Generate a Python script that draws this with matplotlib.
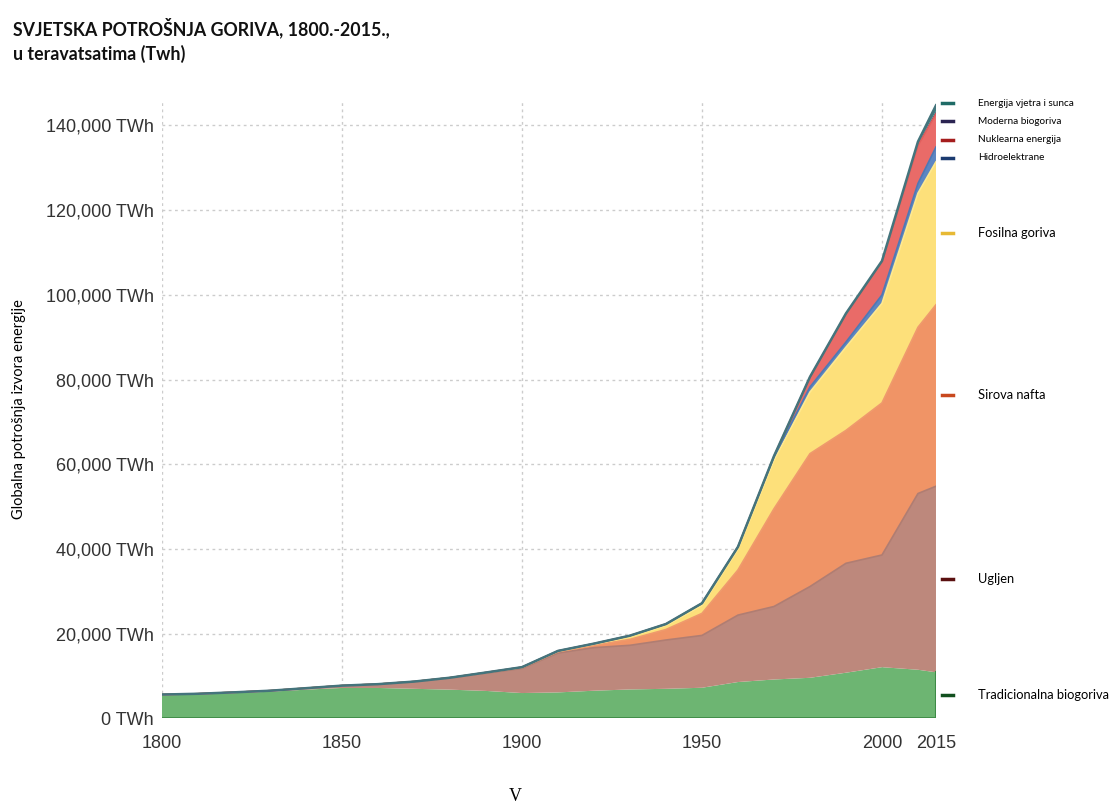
import matplotlib
matplotlib.use("Agg")
from matplotlib import pyplot as plt
from matplotlib.ticker import FuncFormatter
import numpy as np

# Years and energy use per source (TWh)
years = [1800, 1810, 1820, 1830, 1840, 1850, 1860, 1870, 1880, 1890, 1900,
         1910, 1920, 1930, 1940, 1950, 1960, 1970, 1980, 1990, 2000, 2010, 2015]
trad_bio = [5550, 5700, 6000, 6300, 6800, 7200, 7200, 7000, 6800, 6500, 6000,
            6150, 6550, 6850, 7000, 7250, 8600, 9200, 9600, 10800, 12100, 11500, 10900]
coal = [100, 130, 170, 250, 350, 550, 900, 1700, 2800, 4200, 5800,
        9300, 10170, 10420, 11520, 12350, 15800, 17230, 21540, 25830, 26490, 41600, 43920]
oil = [0, 0, 0, 0, 0, 0, 0, 5, 20, 100, 200,
       300, 550, 1400, 2480, 5200, 10660, 23070, 31370, 31370, 35900, 39240, 42840]
gas = [0, 0, 0, 0, 0, 0, 0, 0, 0, 50, 60,
       100, 250, 630, 950, 1900, 4860, 11440, 14540, 19660, 23500, 31660, 33740]
hydro = [0, 0, 0, 0, 0, 0, 0, 0, 0, 0, 50,
         100, 150, 250, 350, 500, 600, 800, 1200, 1200, 2000, 2300, 3500]
nuclear = [0, 0, 0, 0, 0, 0, 0, 0, 0, 0, 0,
           0, 0, 0, 0, 0, 0, 200, 2340, 6640, 7810, 8970, 7830]
modern_bio = [0, 0, 0, 0, 0, 0, 0, 0, 0, 0, 0,
              0, 0, 0, 0, 0, 0, 0, 50, 100, 150, 400, 600]
wind_solar = [0, 0, 0, 0, 0, 0, 0, 0, 0, 0, 0,
              0, 0, 0, 0, 0, 0, 0, 0, 20, 60, 500, 1400]

series = [trad_bio, coal, oil, gas, hydro, nuclear, modern_bio, wind_solar]
labels = ["Tradicionalna biogoriva", "Ugljen", "Sirova nafta", "Fosilna goriva",
          "Hidroelektrane", "Nuklearna energija", "Moderna biogoriva",
          "Energija vjetra i sunca"]
fills = ["#6db572", "#bd887c", "#f09466", "#fde07a",
         "#5d86c2", "#e96b68", "#3b3561", "#3f7f80"]
edges = ["#5a9f5e", "#b07d72", "#ef9a6c", "#ffe98f",
         "#4f78b4", "#e0605d", "#3b3561", "#3f6f78"]
markers = ["#12501f", "#5a1010", "#c8481e", "#e7b934",
           "#1b3b70", "#a51d1d", "#2b2452", "#1f6b66"]
xticks = [1800, 1850, 1900, 1950, 2000, 2015]
yticks = [0, 20000, 40000, 60000, 80000, 100000, 120000, 140000]

fig = plt.figure(figsize=(11.14, 8.05), dpi=100)
ax = fig.add_axes([0.1454, 0.1075, 0.6948, 0.7683])

ax.stackplot(years, *series, colors=fills, linewidth=0)
cum = np.cumsum(np.array(series, dtype=float), axis=0)
for i in range(1, 6):
    ax.plot(years, cum[i], color=edges[i], lw=1.2, zorder=3)
ax.plot(years, cum[-1], color="#44747c", lw=1.8, zorder=4)
ax.plot(years, np.zeros(len(years)), color="#3e8a46", lw=2, zorder=4)
ax.plot([years[-1], years[-1]], [0, trad_bio[-1]], color="#3e8a46", lw=1.5, zorder=4)

ax.set_xlim(1800, 2015)
ax.set_ylim(0, 146000)
ax.set_xticks(xticks)
ax.set_yticks(yticks)
ax.yaxis.set_major_formatter(FuncFormatter(lambda v, p: f"{int(v):,} TWh"))
ax.tick_params(axis="y", length=0, labelsize=13, labelcolor="#333333", pad=6)
ax.tick_params(axis="x", length=0, labelsize=13, labelcolor="#333333", pad=12)
for lab in ax.get_xticklabels() + ax.get_yticklabels():
    lab.set_fontfamily("Liberation Sans")
ax.grid(True, color="#cccccc", linestyle=(0, (2, 2.5)), lw=1)
ax.set_axisbelow(True)
for s in ax.spines.values():
    s.set_visible(False)

ax.set_ylabel("Globalna potrošnja izvora energije", fontsize=10.5,
              fontfamily="Lato", labelpad=14)

# label positions: middle of each layer at 2015, top ones spread apart
last = cum[:, -1]
bottoms = np.concatenate([[0], last[:-1]])
ys = list((last + bottoms) / 2)
ys[7] = last[7] + 500
for i in range(6, 3, -1):
    ys[i] = min(ys[i], ys[i + 1] - 4300)
for i in range(8):
    ax.plot([1.008, 1.022], [ys[i], ys[i]], color=markers[i], lw=2.5,
            transform=ax.get_yaxis_transform(), clip_on=False)
    ax.text(1.054, ys[i], labels[i], transform=ax.get_yaxis_transform(),
            fontsize=7.2 if i >= 4 else 9.3, fontfamily="Lato", va="center",
            ha="left", color="#000000")

fig.text(0.012, 0.978, "SVJETSKA POTROŠNJA GORIVA, 1800.-2015.,\nu teravatsatima (Twh)",
         fontsize=12.8, fontweight="bold", fontfamily="Lato", va="top",
         ha="left", linespacing=1.45, color="#111111")
fig.text(0.463, 0.0, "V", fontsize=13, fontfamily="Liberation Serif",
         ha="center", va="bottom")

fig.savefig("out.png", dpi=100)
